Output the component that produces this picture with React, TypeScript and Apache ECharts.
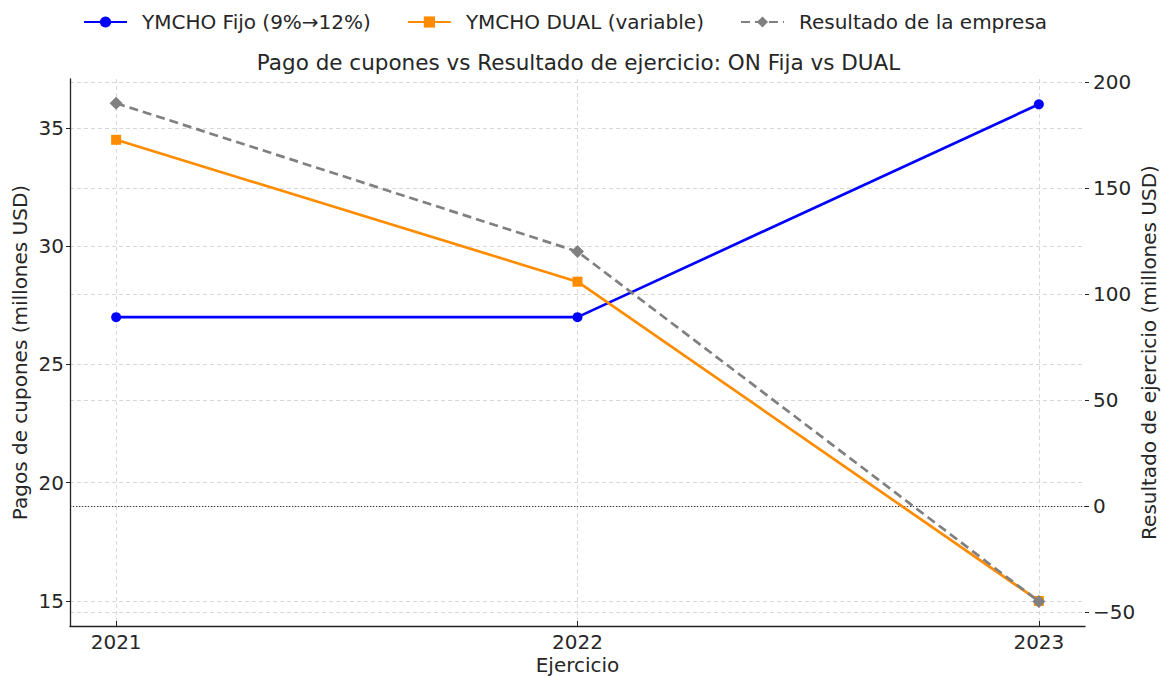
import React, { useEffect, useRef } from "react";
import * as echarts from "echarts";

const years = [2021, 2022, 2023];
const fijo = [27, 27, 36];
const dual = [34.5, 28.5, 15];
const resultado = [190, 120, -45];
const leftTicks = [15, 20, 25, 30, 35];
const rightTicks = [-50, 0, 50, 100, 150, 200];

const FONT = "DejaVu Sans";
const TXT = "#262626";
const GRID = { color: "#d4d4d4", type: [4, 3] as any, width: 0.9 };

export default function App() {
  const ref = useRef<HTMLDivElement>(null);
  useEffect(() => {
    if (!ref.current) return;
    document.documentElement.style.margin = "0";
    document.documentElement.style.overflow = "hidden";
    document.body.style.margin = "0";
    document.body.style.overflow = "hidden";
    const chart = echarts.init(ref.current, undefined, { renderer: "svg" });
    const pair = (ys: number[]) => years.map((y, i) => [y, ys[i]]);
    chart.setOption({
      animation: false,
      textStyle: { fontFamily: FONT, color: TXT },
      title: {
        text: "Pago de cupones vs Resultado de ejercicio: ON Fija vs DUAL",
        left: 573.5,
        textAlign: "center",
        top: 46,
        textStyle: { fontFamily: FONT, fontSize: 21.5, fontWeight: "normal", color: TXT },
      },
      legend: {
        top: 7,
        left: 78,
        itemWidth: 43,
        itemHeight: 14,
        itemGap: 36,
        textStyle: { fontFamily: FONT, fontSize: 20, color: TXT, padding: [0, 0, 0, 10] },
        data: ["YMCHO Fijo (9%→12%)", "YMCHO DUAL (variable)", "Resultado de la empresa"],
      },
      grid: { left: 70, right: 77, top: 79, bottom: 50, containLabel: false, outerBoundsMode: "none" },
      xAxis: {
        type: "value",
        min: 2020.9,
        max: 2023.1,
        name: "Ejercicio",
        nameLocation: "middle",
        nameGap: 28.5,
        nameMoveOverlap: false,
        nameTextStyle: { fontFamily: FONT, fontSize: 20, color: TXT },
        axisLine: { show: true, onZero: false, lineStyle: { color: "#222", width: 1.3 } },
        axisTick: { show: true, inside: true, length: 5, customValues: years, lineStyle: { color: "#222" } },
        axisLabel: {
          customValues: years,
          fontFamily: FONT,
          fontSize: 20,
          color: TXT,
          margin: 6,
          formatter: (v: number) => String(v),
        },
        splitLine: { show: true, lineStyle: GRID },
      },
      yAxis: [
        {
          type: "value",
          position: "left",
          min: 13.94,
          max: 37.07,
          name: "Pagos de cupones (millones USD)",
          nameLocation: "middle",
          nameGap: 40,
          nameRotate: 90,
          nameMoveOverlap: false,
          nameTextStyle: { fontFamily: FONT, fontSize: 20, color: TXT },
          axisLine: { show: true, onZero: false, lineStyle: { color: "#222", width: 1.3 } },
          axisTick: { show: true, length: 4, customValues: leftTicks, lineStyle: { color: "#222" } },
          axisLabel: { customValues: leftTicks, fontFamily: FONT, fontSize: 20, color: TXT, margin: 6 },
          splitLine: { show: true, lineStyle: GRID },
        },
        {
          type: "value",
          position: "right",
          min: -56.6,
          max: 201.4,
          name: "Resultado de ejercicio (millones USD)",
          nameLocation: "middle",
          nameGap: 54,
          nameRotate: 90,
          nameMoveOverlap: false,
          nameTextStyle: { fontFamily: FONT, fontSize: 20, color: TXT },
          axisLine: { show: false, onZero: false },
          axisTick: { show: true, length: 4, customValues: rightTicks, lineStyle: { color: "#222" } },
          axisLabel: {
            customValues: rightTicks,
            fontFamily: FONT,
            fontSize: 20,
            color: TXT,
            margin: 8,
            formatter: (v: number) => (v < 0 ? "\u2212" + Math.abs(v) : String(v)),
          },
          splitLine: { show: true, lineStyle: GRID },
        },
      ],
      series: [
        {
          name: "YMCHO Fijo (9%→12%)",
          type: "line",
          yAxisIndex: 0,
          data: pair(fijo),
          symbol: "circle",
          symbolSize: 10,
          lineStyle: { color: "#0000ff", width: 2.7 },
          itemStyle: { color: "#0000ff" },
          z: 3,
        },
        {
          name: "YMCHO DUAL (variable)",
          type: "line",
          yAxisIndex: 0,
          data: pair(dual),
          symbol: "rect",
          symbolSize: 10,
          lineStyle: { color: "#ff8c00", width: 2.7 },
          itemStyle: { color: "#ff8c00" },
          z: 4,
        },
        {
          name: "Resultado de la empresa",
          type: "line",
          yAxisIndex: 1,
          data: pair(resultado),
          symbol: "diamond",
          symbolSize: 13,
          lineStyle: { color: "#808080", width: 2.7, type: [9, 5] },
          itemStyle: { color: "#808080" },
          z: 5,
          markLine: {
            silent: true,
            symbol: "none",
            label: { show: false },
            lineStyle: { color: "#333", type: [1.2, 1.8], width: 1.1 },
            data: [{ yAxis: 0 }],
            z: 2,
          },
        },
      ],
    });
    return () => chart.dispose();
  }, []);
  return <div ref={ref} style={{ width: 1162, height: 676 }} />;
}
